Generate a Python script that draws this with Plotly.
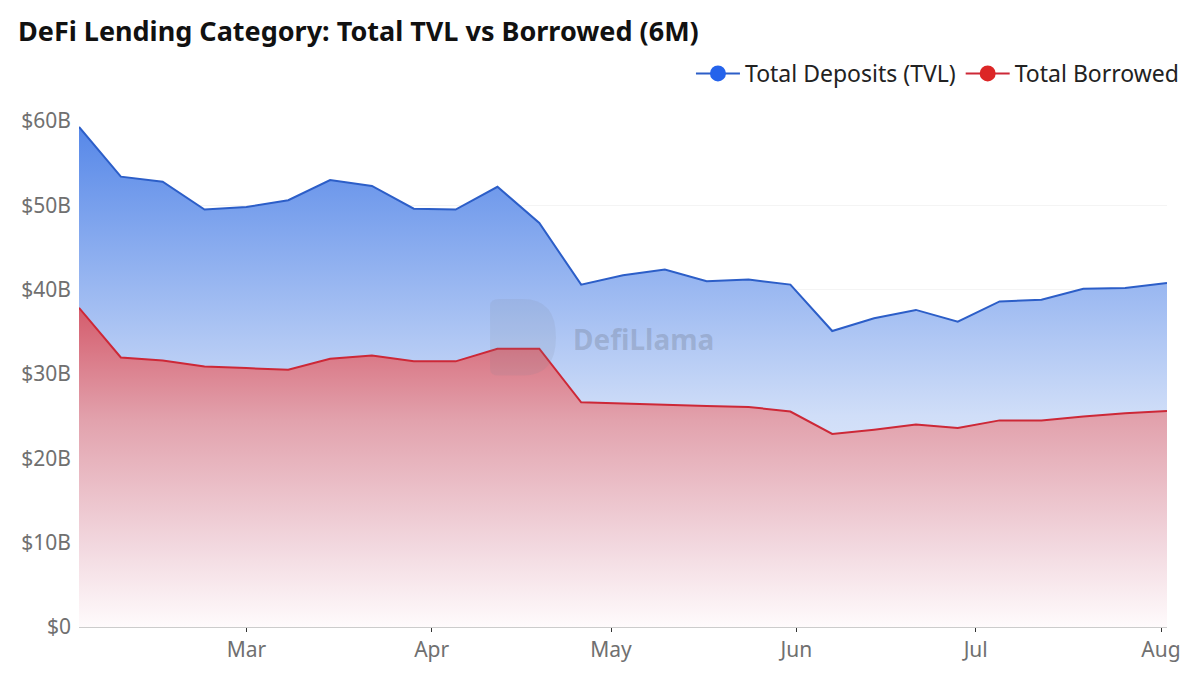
import plotly.graph_objects as go

dates = [
    "2025-02-01", "2025-02-08", "2025-02-15", "2025-02-22", "2025-03-01",
    "2025-03-08", "2025-03-15", "2025-03-22", "2025-03-29", "2025-04-05",
    "2025-04-12", "2025-04-19", "2025-04-26", "2025-05-03", "2025-05-10",
    "2025-05-17", "2025-05-24", "2025-05-31", "2025-06-07", "2025-06-14",
    "2025-06-21", "2025-06-28", "2025-07-05", "2025-07-12", "2025-07-19",
    "2025-07-26", "2025-08-02",
]
total_deposits_b = [
    59.3, 53.4, 52.8, 49.5, 49.8, 50.6, 53.0, 52.3, 49.6, 49.5,
    52.2, 47.9, 40.6, 41.7, 42.4, 41.0, 41.2, 40.6, 35.1, 36.6,
    37.6, 36.2, 38.6, 38.8, 40.1, 40.2, 40.8,
]
total_borrowed_b = [
    37.85, 31.96, 31.6, 30.9, 30.7, 30.5, 31.8, 32.2, 31.5, 31.5,
    33.0, 33.0, 26.65, 26.5, 26.3, 26.2, 26.1, 25.55, 22.9, 23.4,
    24.0, 23.6, 24.5, 24.5, 24.95, 25.35, 25.6,
]
x_tick_vals = ["2025-03-01", "2025-04-01", "2025-05-01", "2025-06-01",
               "2025-07-01", "2025-08-01"]
x_tick_text = ["Mar", "Apr", "May", "Jun", "Jul", "Aug"]
y_tick_vals = [0, 10, 20, 30, 40, 50, 60]
y_tick_text = ["$0", "$10B", "$20B", "$30B", "$40B", "$50B", "$60B"]

FONT = "Noto Sans"

fig = go.Figure()

fig.add_trace(go.Scatter(
    x=dates, y=total_deposits_b, name="Total Deposits (TVL)",
    mode="lines", line=dict(color="rgb(44,94,200)", width=2),
    fill="tozeroy",
    fillgradient=dict(
        type="vertical", start=0, stop=60,
        colorscale=[[0, "rgb(246,249,255)"], [0.42, "rgb(208,222,248)"],
                    [1, "rgb(84,134,232)"]],
    ),
    showlegend=False,
))
fig.add_trace(go.Scatter(
    x=dates, y=total_borrowed_b, name="Total Borrowed",
    mode="lines", line=dict(color="rgb(205,40,55)", width=2),
    fill="tozeroy",
    fillgradient=dict(
        type="vertical", start=0, stop=38,
        colorscale=[[0, "rgb(255,252,253)"], [0.26, "rgb(242,216,223)"],
                    [0.65, "rgb(226,162,173)"], [1, "rgb(212,92,108)"]],
    ),
    showlegend=False,
))

# legend entries
fig.add_trace(go.Scatter(
    x=[None], y=[None], name="Total Deposits (TVL)", mode="lines+markers",
    line=dict(color="rgb(44,94,200)", width=2),
    marker=dict(color="#2563eb", size=18),
))
fig.add_trace(go.Scatter(
    x=[None], y=[None], name="Total Borrowed", mode="lines+markers",
    line=dict(color="rgb(205,40,55)", width=2),
    marker=dict(color="#dc2626", size=18),
))

# watermark
fig.add_shape(
    type="path", xref="paper", yref="paper",
    path="M 0.3778,0.51 Q 0.3778,0.497 0.386,0.497 L 0.408,0.497 Q 0.4384,0.497 0.4384,0.5727 Q 0.4384,0.6483 0.408,0.6483 L 0.386,0.6483 Q 0.3778,0.6483 0.3778,0.635 Z",
    fillcolor="rgba(120,130,150,0.13)", line=dict(width=0), layer="above",
)
fig.add_annotation(
    x=0.519, y=0.569, xref="paper", yref="paper", text="<b>DefiLlama</b>",
    showarrow=False, font=dict(family=FONT, size=28, color="rgba(110,120,140,0.32)"),
)

fig.update_layout(
    width=1200, height=675,
    margin=dict(l=79, r=33, t=121, b=45),
    paper_bgcolor="white", plot_bgcolor="white",
    font=dict(family=FONT, color="#666666"),
    title=dict(
        text="<b>DeFi Lending Category: Total TVL vs Borrowed (6M)</b>",
        x=0.015, xanchor="left", xref="container",
        y=1 - 32 / 675, yanchor="middle", yref="container",
        font=dict(family=FONT, size=27, color="#111111"),
    ),
    legend=dict(
        orientation="h", x=1.0165, xanchor="right", y=1.094, yanchor="middle",
        font=dict(family=FONT, size=23, color="#222222"),
        itemwidth=44, bgcolor="rgba(0,0,0,0)",
    ),
    xaxis=dict(
        type="date", range=[dates[0], dates[-1]],
        tickvals=x_tick_vals, ticktext=x_tick_text,
        ticks="outside", ticklen=4, tickcolor="#333333",
        showline=True, linecolor="#cccccc", showgrid=False,
        tickfont=dict(family=FONT, size=21, color="#707070"),
        zeroline=False,
    ),
    yaxis=dict(
        range=[0, 60], tickvals=y_tick_vals, ticktext=y_tick_text,
        showgrid=True, gridcolor="#f4f4f4", zeroline=False,
        tickfont=dict(family=FONT, size=21, color="#707070"),
        ticks="", ticklabelstandoff=7,
    ),
)

fig.write_html("out.html")
